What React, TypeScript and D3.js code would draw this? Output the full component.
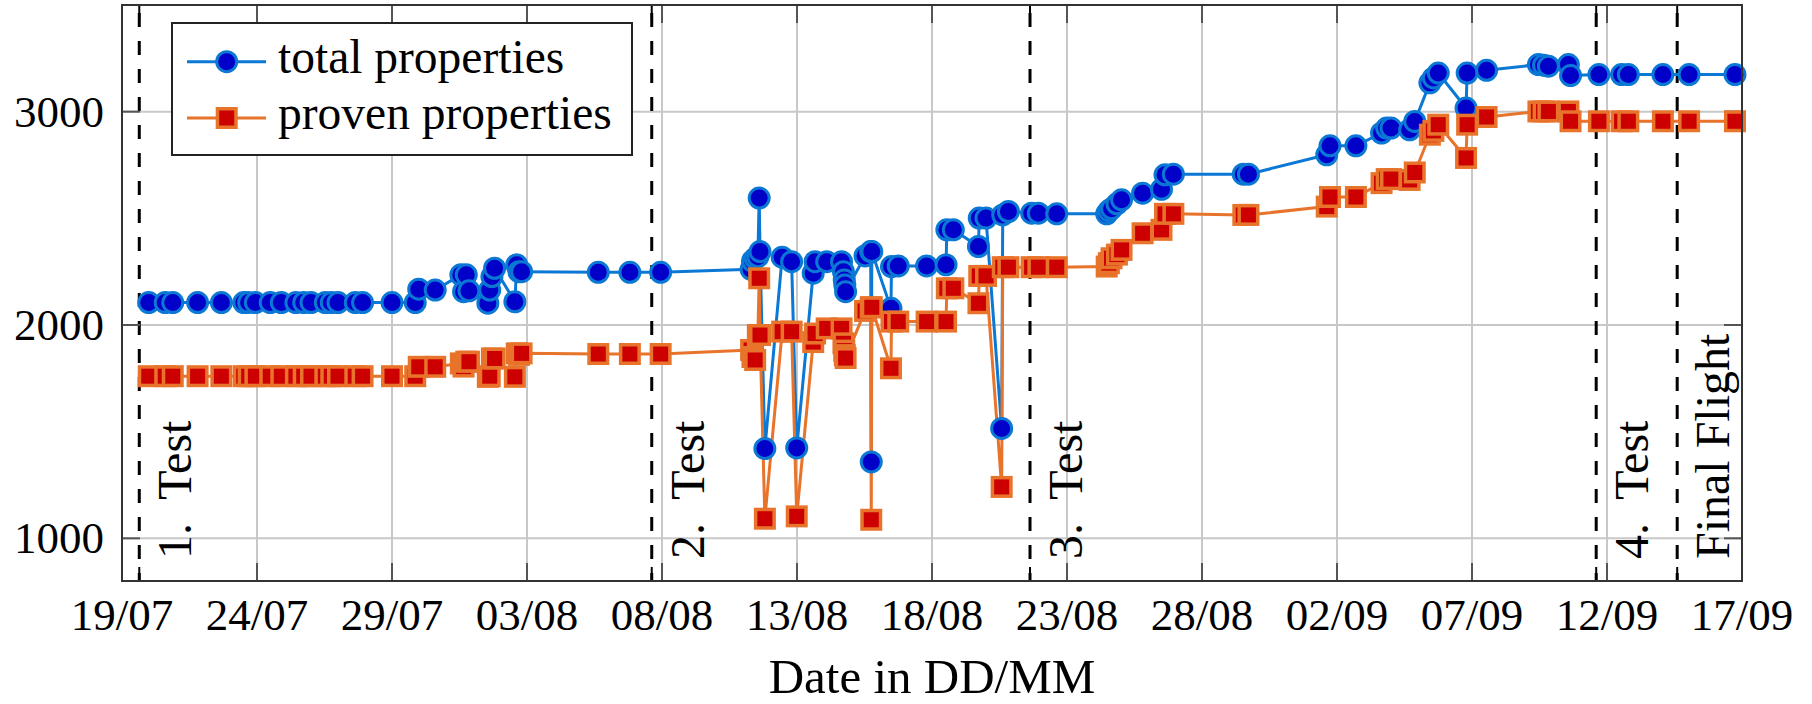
import React from "react";
import * as d3 from "d3";

// Day offsets since 19/07 00:00 (fractional days)
const dayOffsets = [
  0.99, 1.6, 1.88, 2.8, 3.68, 4.51, 4.69, 4.94, 5.49, 5.9, 6.44, 6.73, 7.0, 7.53, 7.75, 8.0, 8.64, 8.91, 10.0, 10.86,
  10.99, 11.6, 12.55, 12.65, 12.75, 12.85, 13.55, 13.62, 13.7, 13.8, 14.55, 14.62, 14.7, 14.8,
  17.64, 18.81, 19.95, 23.3, 23.35, 23.45, 23.55, 23.6, 23.63, 23.81, 24.45, 24.8, 24.99,
  25.6, 25.67, 26.1, 26.65, 26.72, 26.75, 26.77, 26.8, 27.52, 27.73, 27.75, 27.77, 28.48, 28.5,
  28.75, 29.8, 30.52, 30.55, 30.79, 31.72, 31.75, 32.0, 32.58, 32.62, 32.83, 33.69, 33.94, 34.62,
  36.47, 36.55, 36.65, 36.85, 37.02, 37.8, 38.5, 38.63, 38.94, 41.53, 41.72, 44.62, 44.74, 45.7,
  46.65, 46.84, 47.0, 47.69, 47.88, 48.44, 48.57, 48.75, 49.78, 49.82, 50.54, 52.46, 52.65, 52.83,
  53.57, 53.65, 54.7, 55.54, 55.79, 57.07, 58.04, 59.74,
];

const totalProps = [
  2105, 2105, 2105, 2105, 2105, 2105, 2105, 2105, 2105, 2105, 2105, 2105, 2105, 2105, 2105, 2105, 2105, 2105, 2105, 2105,
  2168, 2164, 2235, 2156, 2235, 2160, 2102, 2164, 2227, 2266, 2109, 2282, 2250, 2250,
  2247, 2247, 2247, 2261, 2300, 2313, 2320, 2595, 2344, 1421, 2318, 2297, 1424,
  2243, 2297, 2297, 2297, 2250, 2211, 2188, 2156, 2324, 2344, 1358, 2344, 2078, 2274,
  2277, 2277, 2282, 2446, 2446, 2368, 2501, 2501, 1515, 2516, 2532, 2524, 2524, 2521,
  2521, 2535, 2545, 2568, 2587, 2618, 2636, 2704, 2707, 2707, 2707, 2798, 2840, 2840,
  2900, 2923, 2923, 2915, 2954, 3135, 3158, 3181, 3017, 3181, 3194, 3221, 3218, 3213,
  3221, 3169, 3174, 3174, 3174, 3174, 3174, 3174,
];

const provenProps = [
  1760, 1760, 1760, 1760, 1760, 1760, 1760, 1760, 1760, 1760, 1760, 1760, 1760, 1760, 1760, 1760, 1760, 1760, 1760, 1760,
  1804, 1804, 1820, 1805, 1828, 1828, 1757, 1760, 1843, 1843, 1757, 1867, 1860, 1867,
  1864, 1864, 1864, 1883, 1850, 1836, 1953, 2219, 1953, 1092, 1969, 1969, 1103,
  1920, 1960, 1984, 1984, 1914, 1880, 1859, 1845, 2066, 2083, 1087, 2083, 1797, 2016,
  2016, 2016, 2016, 2172, 2172, 2102, 2230, 2230, 1241, 2271, 2271, 2271, 2271, 2271,
  2274, 2290, 2313, 2330, 2352, 2430, 2446, 2521, 2521, 2516, 2516, 2555, 2600, 2600,
  2665, 2684, 2684, 2680, 2715, 2892, 2910, 2939, 2783, 2939, 2975, 3001, 3001, 3001,
  3001, 2955, 2955, 2955, 2955, 2955, 2955, 2955,
];

const xTickLabels = ["19/07", "24/07", "29/07", "03/08", "08/08", "13/08", "18/08", "23/08", "28/08", "02/09", "07/09", "12/09", "17/09"];
const yTickValues = [1000, 2000, 3000];
const eventOffsets = [0.64, 19.62, 33.63, 54.6, 57.6];
const eventLabels = ["1.  Test", "2.  Test", "3.  Test", "4.  Test", "Final Flight"];
const seriesNames = ["total properties", "proven properties"];

const DAY = 86400000;
const BASE = Date.UTC(2000, 6, 19);
const toDate = (d: number) => new Date(BASE + d * DAY);
const parseTick = (s: string) => d3.utcParse("%d/%m/%Y")(s + "/2000") as Date;

const BLUE_LINE = "#0a78d4";
const BLUE_FILL = "#0000c8";
const ORANGE_LINE = "#e8732a";
const RED_FILL = "#cc0000";
const FONT = "'Liberation Serif', 'Times New Roman', serif";

export default function App() {
  const W = 1812, H = 704;
  const left = 122, right = 1742, top = 5, bottom = 581;
  const x = d3.scaleUtc().domain([toDate(0), toDate(60)]).range([left, right]);
  const y = d3.scaleLinear().domain([800, 3500]).range([bottom, top]);

  const pts = dayOffsets.map((d, i) => ({ t: toDate(d), a: totalProps[i], b: provenProps[i] }));
  const lineA = d3.line<any>().x((p) => x(p.t)).y((p) => y(p.a))(pts) || "";
  const lineB = d3.line<any>().x((p) => x(p.t)).y((p) => y(p.b))(pts) || "";
  const tickDates = xTickLabels.map(parseTick);
  const tickLen = 18;
  const sq = 18.5;
  const rr = 10;

  return (
    <svg width={W} height={H} style={{ position: "absolute", left: 0, top: 0, background: "#fff" }} fontFamily={FONT}>
      <rect x={0} y={0} width={W} height={H} fill="#fff" />
      {/* grid */}
      {tickDates.map((t, i) => (
        <line key={"gx" + i} x1={x(t)} x2={x(t)} y1={top} y2={bottom} stroke="#c8c8c8" strokeWidth={2} />
      ))}
      {yTickValues.map((v) => (
        <line key={"gy" + v} x1={left} x2={right} y1={y(v)} y2={y(v)} stroke="#c8c8c8" strokeWidth={2} />
      ))}
      {/* event lines */}
      {eventOffsets.map((d, i) => {
        const ex = x(toDate(d));
        return (
          <g key={"ev" + i}>
            <line x1={ex} x2={ex} y1={top} y2={bottom} stroke="#000" strokeWidth={3} strokeDasharray="14 14" strokeDashoffset={-8} />
            <line x1={ex} x2={ex} y1={bottom - 14} y2={bottom} stroke="#000" strokeWidth={2} />
            <line x1={ex} x2={ex} y1={top} y2={top + 14} stroke="#000" strokeWidth={2} />
            <text transform={`translate(${ex + 52},559) rotate(-90)`} fontSize={48} fill="#000" style={{ whiteSpace: "pre" }}>
              {eventLabels[i]}
            </text>
          </g>
        );
      })}
      {/* ticks */}
      {tickDates.map((t, i) => (
        <g key={"tx" + i}>
          <line x1={x(t)} x2={x(t)} y1={bottom} y2={bottom - tickLen} stroke="#555" strokeWidth={2} />
          <line x1={x(t)} x2={x(t)} y1={top} y2={top + tickLen} stroke="#555" strokeWidth={2} />
          <text x={x(t)} y={630} textAnchor="middle" fontSize={45} fill="#000">
            {xTickLabels[i]}
          </text>
        </g>
      ))}
      {yTickValues.map((v) => (
        <g key={"ty" + v}>
          <line x1={left} x2={left + tickLen} y1={y(v)} y2={y(v)} stroke="#555" strokeWidth={2} />
          <line x1={right} x2={right - tickLen} y1={y(v)} y2={y(v)} stroke="#555" strokeWidth={2} />
          <text x={104} y={y(v) + 15} textAnchor="end" fontSize={45} fill="#000">
            {v}
          </text>
        </g>
      ))}
      {/* data lines */}
      <path d={lineA} fill="none" stroke={BLUE_LINE} strokeWidth={3} strokeLinejoin="round" />
      <path d={lineB} fill="none" stroke={ORANGE_LINE} strokeWidth={3} strokeLinejoin="round" />
      {pts.map((p, i) => (
        <circle key={"ca" + i} cx={x(p.t)} cy={y(p.a)} r={rr} fill={BLUE_FILL} stroke={BLUE_LINE} strokeWidth={3} />
      ))}
      {pts.map((p, i) => (
        <rect key={"rb" + i} x={x(p.t) - sq / 2} y={y(p.b) - sq / 2} width={sq} height={sq} fill={RED_FILL} stroke={ORANGE_LINE} strokeWidth={3.5} />
      ))}
      {/* frame */}
      <rect x={left} y={top} width={right - left} height={bottom - top} fill="none" stroke="#333" strokeWidth={2} />
      {/* legend */}
      <rect x={172} y={23} width={460} height={132} fill="#fff" stroke="#222" strokeWidth={2} />
      <line x1={187} x2={266} y1={61.7} y2={61.7} stroke={BLUE_LINE} strokeWidth={3} />
      <circle cx={226.7} cy={61.7} r={rr} fill={BLUE_FILL} stroke={BLUE_LINE} strokeWidth={3} />
      <text x={278} y={73} fontSize={47.5} fill="#000">{seriesNames[0]}</text>
      <line x1={187} x2={266} y1={118} y2={118} stroke={ORANGE_LINE} strokeWidth={3} />
      <rect x={226.7 - sq / 2} y={118 - sq / 2} width={sq} height={sq} fill={RED_FILL} stroke={ORANGE_LINE} strokeWidth={3.5} />
      <text x={278} y={129} fontSize={47.5} fill="#000">{seriesNames[1]}</text>
      {/* axis title */}
      <text x={(left + right) / 2} y={693} textAnchor="middle" fontSize={49} fill="#000">
        Date in DD/MM
      </text>
    </svg>
  );
}
